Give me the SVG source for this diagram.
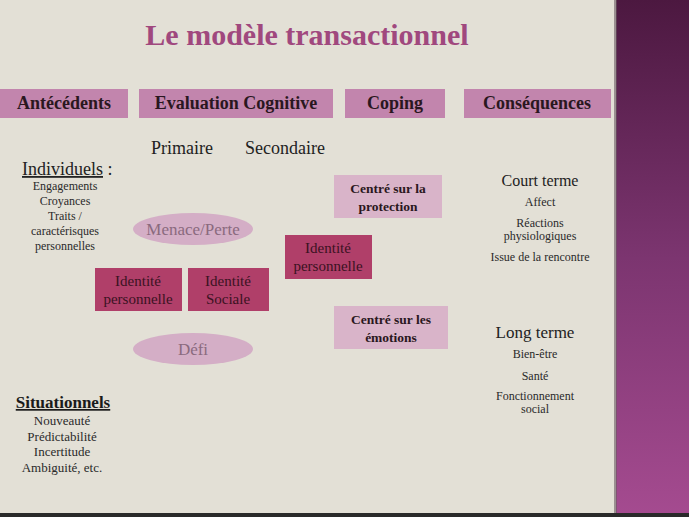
<svg xmlns="http://www.w3.org/2000/svg" width="689" height="517" viewBox="0 0 689 517">
<defs>
<linearGradient id="panel" x1="0" y1="0" x2="0" y2="1">
<stop offset="0" stop-color="#4c1840"/>
<stop offset="0.5" stop-color="#7c3570"/>
<stop offset="1" stop-color="#a54b90"/>
</linearGradient>
<style>
.serif{font-family:"Liberation Serif","Times New Roman",serif;}
.hdr{fill:#c285ad;}
.hdrt{font-family:"Liberation Serif",serif;font-weight:bold;font-size:18px;fill:#2a1720;text-anchor:middle;}
.ell{fill:#d4aec6;}
.ellt{font-family:"Liberation Serif",serif;font-size:17px;fill:#8a6a7e;text-anchor:middle;}
.red{fill:#b03f69;}
.redt{font-family:"Liberation Serif",serif;font-size:15px;fill:#3a1222;text-anchor:middle;}
.pink{fill:#d9b4c9;}
.pinkt{font-family:"Liberation Serif",serif;font-weight:bold;font-size:13.5px;fill:#2a1720;text-anchor:middle;}
.big{font-family:"Liberation Serif",serif;font-size:18px;fill:#222;}
.sm{font-family:"Liberation Serif",serif;font-size:12px;fill:#2a2a2a;text-anchor:middle;}
.md{font-family:"Liberation Serif",serif;font-size:13px;fill:#2a2a2a;text-anchor:middle;}
</style>
</defs>
<rect x="0" y="0" width="689" height="517" fill="#e3e0d6"/>
<rect x="616" y="0" width="73" height="517" fill="url(#panel)"/>
<rect x="614" y="0" width="3" height="517" fill="#6a5a62" opacity="0.6"/>
<rect x="0" y="513" width="689" height="4" fill="#2a2a2a"/>

<text class="serif" x="307" y="45" font-size="30" font-weight="bold" fill="#a0487e" text-anchor="middle">Le modèle transactionnel</text>

<g id="antecedents"><rect class="hdr" x="0" y="89" width="128" height="29"/><text class="hdrt" x="64" y="109">Antécédents</text></g>
<g id="evaluation"><rect class="hdr" x="139" y="89" width="194" height="29"/><text class="hdrt" x="236" y="109">Evaluation Cognitive</text></g>
<g id="coping"><rect class="hdr" x="345" y="89" width="100" height="29"/><text class="hdrt" x="395" y="109">Coping</text></g>
<g id="consequences"><rect class="hdr" x="464" y="89" width="147" height="29"/><text class="hdrt" x="537" y="109">Conséquences</text></g>

<g id="primaire"><text class="big" x="182" y="154" text-anchor="middle">Primaire</text></g>
<g id="secondaire"><text class="big" x="285" y="154" text-anchor="middle">Secondaire</text></g>

<g id="individuels">
<text class="big" x="22" y="175"><tspan text-decoration="underline">Individuels</tspan> :</text>
<text class="sm" x="65" y="190">Engagements</text>
<text class="sm" x="65" y="205">Croyances</text>
<text class="sm" x="65" y="220">Traits /</text>
<text class="sm" x="65" y="235">caractérisques</text>
<text class="sm" x="65" y="250">personnelles</text>
</g>

<g id="menace"><ellipse class="ell" cx="193" cy="229" rx="60" ry="16"/><text class="ellt" x="193" y="235">Menace/Perte</text></g>
<g id="defi"><ellipse class="ell" cx="193" cy="349" rx="60" ry="16"/><text class="ellt" x="193" y="355">Défi</text></g>

<g id="identite-perso-1"><rect class="red" x="95" y="268" width="87" height="43"/><text class="redt" x="138" y="286">Identité</text><text class="redt" x="138" y="304">personnelle</text></g>
<g id="identite-sociale"><rect class="red" x="188" y="268" width="81" height="43"/><text class="redt" x="228" y="286">Identité</text><text class="redt" x="228" y="304">Sociale</text></g>
<g id="identite-perso-2"><rect class="red" x="285" y="235" width="87" height="44"/><text class="redt" x="328" y="253">Identité</text><text class="redt" x="328" y="271">personnelle</text></g>

<g id="protection"><rect class="pink" x="334" y="175" width="108" height="43"/><text class="pinkt" x="388" y="193">Centré sur la</text><text class="pinkt" x="388" y="211">protection</text></g>
<g id="emotions"><rect class="pink" x="334" y="306" width="114" height="43"/><text class="pinkt" x="391" y="324">Centré sur les</text><text class="pinkt" x="391" y="342">émotions</text></g>

<g id="situationnels">
<text class="serif" x="63" y="408" font-size="17" font-weight="bold" fill="#1a1a1a" text-anchor="middle" text-decoration="underline">Situationnels</text>
<text class="md" x="62" y="425">Nouveauté</text>
<text class="md" x="62" y="441">Prédictabilité</text>
<text class="md" x="62" y="456">Incertitude</text>
<text class="md" x="62" y="472">Ambiguité, etc.</text>
</g>

<g id="court-terme">
<text class="serif" x="540" y="186" font-size="16" fill="#222" text-anchor="middle">Court terme</text>
<text class="sm" x="540" y="206">Affect</text>
<text class="sm" x="540" y="227">Réactions</text>
<text class="sm" x="540" y="240">physiologiques</text>
<text class="sm" x="540" y="261">Issue de la rencontre</text>
</g>
<g id="long-terme">
<text class="serif" x="535" y="338" font-size="17" fill="#222" text-anchor="middle">Long terme</text>
<text class="sm" x="535" y="358">Bien-être</text>
<text class="sm" x="535" y="380">Santé</text>
<text class="sm" x="535" y="400">Fonctionnement</text>
<text class="sm" x="535" y="413">social</text>
</g>
<g id="connectors"></g>
</svg>
